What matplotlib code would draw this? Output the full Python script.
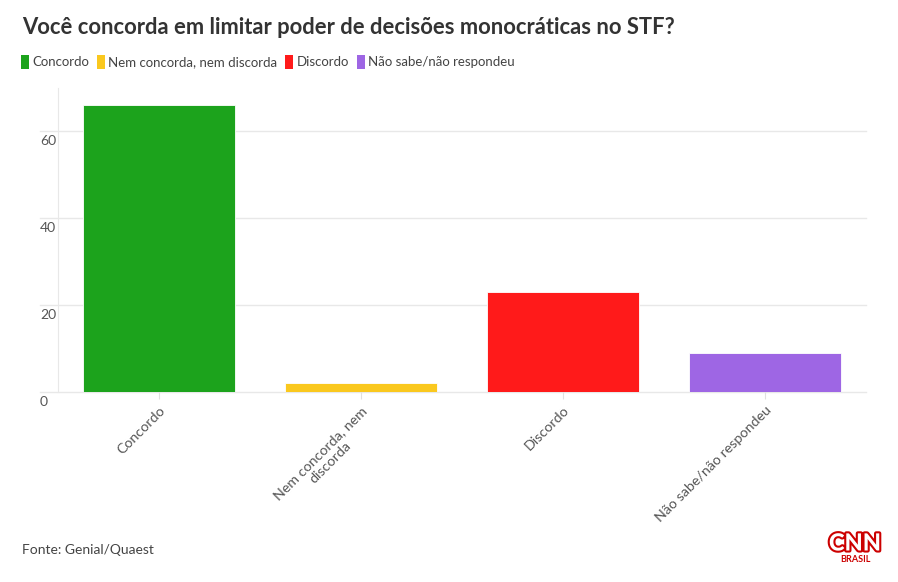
import matplotlib
matplotlib.use('Agg')
import matplotlib.pyplot as plt
import matplotlib.patheffects as pe
from matplotlib.patches import Patch

plt.rcParams['font.family'] = ['Lato', 'DejaVu Sans']

# Dados (Genial/Quaest)
categorias = ['Concordo', 'Nem concorda, nem discorda', 'Discordo', 'Não sabe/não respondeu']
rotulos_x = ['Concordo', 'Nem concorda, nem\ndiscorda', 'Discordo', 'Não sabe/não respondeu']
valores = [66, 2, 23, 9]
cores = ['#1ca31c', '#fac81e', '#ff1a1a', '#9e66e4']
yticks = [0, 20, 40, 60]

W, H = 898, 582
fig = plt.figure(figsize=(W / 100, H / 100), dpi=100)
ax = fig.add_axes([58 / W, 1 - 391.7 / H, (866 - 58) / W, (391.7 - 88) / H])

ax.bar(range(len(valores)), valores, width=0.75, color=cores,
       edgecolor='white', linewidth=0.6, zorder=3)

ax.set_xlim(-0.5, len(valores) - 0.5)
ax.set_ylim(0, 70)

# grade horizontal um pouco além do eixo, como no original
for y in yticks:
    ax.axhline(y, xmin=-0.022, xmax=1, color='#e8e8e8', lw=1, zorder=1, clip_on=False)

for s in ['top', 'right', 'bottom']:
    ax.spines[s].set_visible(False)
ax.spines['left'].set_color('#e8e8e8')

# rótulos do eixo y logo abaixo de cada linha de grade
ax.set_yticks(yticks)
ax.set_yticklabels([])
ax.tick_params(axis='y', length=0)
for y in yticks:
    ax.annotate(str(y), xy=(0, y), xycoords=('axes fraction', 'data'),
                xytext=(-18, -4), textcoords='offset pixels',
                ha='left', va='top', fontsize=10, color='#555555')

ax.set_xticks(range(len(valores)))
ax.set_xticklabels(rotulos_x, rotation=45, ha='right', rotation_mode='anchor',
                   fontsize=10.3, color='#555555', multialignment='center')
ax.tick_params(axis='x', length=5, color='#e0e0e0', pad=4)

# título e legenda
fig.text(22 / W, 1 - 27 / H, 'Você concorda em limitar poder de decisões monocráticas no STF?',
         fontsize=15.8, fontweight='bold', color='#333333', va='center', ha='left')

handles = [Patch(facecolor=c, edgecolor='none') for c in cores]
fig.legend(handles, categorias, loc='center left', bbox_to_anchor=(21 / W, 1 - 62 / H),
           ncol=4, frameon=False, fontsize=9.5, handlelength=0.6, handleheight=1.2,
           handletextpad=0.25, columnspacing=0.6, labelcolor='#444444',
           borderpad=0, borderaxespad=0)

fig.text(22 / W, 1 - 550 / H, 'Fonte: Genial/Quaest', fontsize=10, color='#444444',
         va='center', ha='left')

# logo CNN Brasil (aproximação em texto)
fig.text(855 / W, 1 - 543 / H, 'CNN', fontsize=17, fontweight='black', color='white',
         ha='center', va='center',
         path_effects=[pe.withStroke(linewidth=3, foreground='#cc0000')])
fig.text(855 / W, 1 - 560 / H, 'BRASIL', fontsize=6.5, fontweight='bold', color='#cc0000',
         ha='center', va='center')

fig.savefig('out.png', dpi=100)
plt.close(fig)
print('Saved: out.png')
